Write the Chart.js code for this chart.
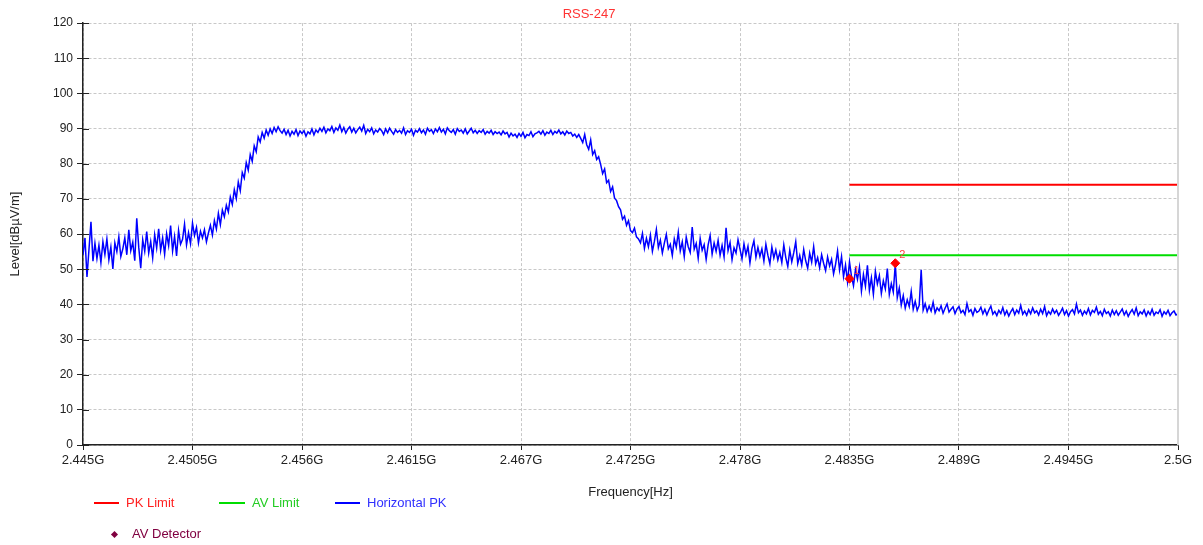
<!DOCTYPE html>
<html><head><meta charset="utf-8">
<script src="https://cdn.jsdelivr.net/npm/chart.js@4.4.0/dist/chart.umd.min.js"></script>
<style>
html,body{margin:0;padding:0;background:#fff;}
#wrap{position:relative;width:1203px;height:545px;font-family:"Liberation Sans",Arial,sans-serif;overflow:hidden;}
canvas{position:absolute;left:0;top:0;}
.lgt{position:absolute;font-size:13px;line-height:16px;white-space:nowrap;}
.lgs{position:absolute;height:2px;}
.lgd{position:absolute;width:5px;height:5px;transform:rotate(45deg);}
</style></head><body>
<div id="wrap"><canvas id="c" width="1203" height="545"></canvas><div id="legend"></div></div>
<script>
// ---------- data ----------
const chartTitle = 'RSS-247';
const xAxisTitle = 'Frequency[Hz]';
const yAxisTitle = 'Level[dBµV/m]';
const fStart = 2.445;
const fStop = 2.5;
const fStep = 0.0001;
const xTickLabels = ['2.445G','2.4505G','2.456G','2.4615G','2.467G','2.4725G','2.478G','2.4835G','2.489G','2.4945G','2.5G'];
const yMin = 0, yMax = 120, yStep = 10;

const levels = [
54.1,58.9,47.8,55.6,63.5,52.3,57.4,53.0,56.8,51.9,
57.8,54.2,58.6,52.7,56.3,50.1,57.5,55.0,59.2,53.6,
55.8,58.9,54.1,61.2,55.3,57.7,52.4,64.5,56.2,50.3,
58.4,55.1,60.7,54.6,57.9,53.2,59.8,56.0,61.5,55.4,
58.9,54.3,60.1,56.7,62.4,55.2,59.3,53.8,61.0,57.1,
58.5,62.8,56.9,60.4,57.3,63.1,59.6,61.9,57.5,60.8,
58.9,61.2,57.8,60.3,62.5,59.7,63.8,61.4,65.9,62.7,
66.8,64.9,68.2,66.3,70.5,68.4,72.6,70.1,74.8,72.3,
77.5,75.9,80.3,78.2,82.6,80.7,85.1,83.4,87.6,86.2,
88.9,87.3,89.6,88.1,89.9,88.6,90.3,89.1,90.5,89.4,
88.7,89.8,88.3,89.5,87.9,89.2,88.4,89.7,88.0,89.3,
88.6,89.4,87.8,89.1,88.5,89.9,88.2,89.6,88.9,90.1,
89.2,90.4,88.8,89.9,89.4,90.6,88.9,90.2,89.5,91.0,
89.1,90.3,88.7,89.8,90.5,89.0,90.1,88.8,89.7,90.4,
89.3,90.9,88.6,89.8,89.1,90.2,88.5,89.6,89.0,90.0,
89.4,88.3,89.9,88.8,90.1,89.2,88.4,89.7,88.9,89.5,
88.7,90.2,88.3,89.4,88.9,89.8,88.1,89.5,89.0,90.0,
88.8,89.6,88.4,90.1,89.2,89.7,88.6,89.9,89.1,90.3,
89.0,89.8,88.5,90.2,89.4,88.9,89.7,88.4,90.0,89.2,
89.6,88.7,89.9,88.5,89.3,90.1,88.8,89.5,88.6,89.4,
88.9,89.7,88.4,89.2,88.7,89.5,88.3,89.1,88.6,89.0,
88.2,89.3,88.5,88.9,87.6,88.7,87.9,88.4,87.5,88.6,
87.8,88.9,87.4,88.3,88.0,89.1,87.7,88.5,88.8,89.2,
88.4,89.4,88.1,89.0,88.6,89.5,88.3,89.2,88.7,89.6,
88.5,89.1,88.2,89.3,88.6,88.9,87.9,88.4,87.5,88.3,
87.2,86.0,88.3,85.4,84.1,86.8,82.6,83.7,81.2,82.0,
79.8,77.2,78.5,74.6,75.3,72.1,73.4,70.2,69.5,67.8,
66.9,64.2,65.1,62.5,63.8,61.0,60.4,61.7,59.2,58.6,
57.5,60.2,55.9,58.8,56.4,59.7,55.1,57.9,61.3,56.2,
58.3,54.6,57.4,59.9,55.8,57.1,53.9,58.6,56.3,60.5,
55.2,57.8,53.6,59.1,56.4,54.8,62.0,55.7,57.3,53.1,
58.7,55.4,57.0,52.8,56.9,59.6,54.3,57.5,55.1,58.2,
54.0,56.8,53.5,61.8,55.3,57.6,52.7,56.1,54.6,58.4,
55.7,52.9,57.2,54.1,56.5,51.8,55.9,58.1,53.4,56.2,
53.6,55.8,52.3,57.1,54.0,51.5,56.3,53.2,55.5,52.6,
54.8,51.9,56.9,53.3,50.8,55.4,52.1,54.7,57.8,51.6,
53.9,51.2,55.6,52.4,50.3,54.6,52.0,56.4,51.5,53.3,
50.4,54.1,51.7,49.6,53.5,50.9,52.8,48.7,51.4,55.2,
49.8,53.6,47.9,51.2,46.4,52.1,48.0,45.3,49.9,47.1,
50.6,43.8,48.5,45.2,51.1,44.0,47.6,42.9,49.4,45.8,
48.2,43.1,46.7,44.4,50.2,42.8,45.9,43.5,51.5,41.9,
44.6,39.8,42.5,38.9,41.3,39.4,43.7,38.6,40.9,38.3,
39.7,49.8,38.4,40.2,37.9,39.5,38.1,40.6,37.6,39.0,
38.2,39.6,37.5,38.9,40.1,37.8,38.6,39.3,37.4,38.7,
39.4,37.6,38.3,37.1,40.2,37.9,38.5,36.9,38.8,37.7,
38.1,39.2,37.3,38.6,37.0,38.4,39.5,37.2,38.0,36.8,
38.3,37.4,39.1,37.0,38.2,36.7,37.9,38.8,37.1,38.4,
37.5,39.7,37.2,38.1,36.9,38.5,37.3,39.0,37.6,38.2,
37.0,38.6,37.4,39.4,36.8,38.0,37.2,38.7,37.5,38.3,
36.9,37.8,38.9,37.1,38.2,36.7,37.9,38.5,37.3,40.1,
37.6,38.4,36.9,38.1,37.3,38.8,37.0,38.3,37.7,39.2,
37.2,38.0,36.8,38.6,37.4,37.9,36.7,38.4,37.1,38.2,
36.9,37.8,38.7,37.0,38.1,36.6,37.7,38.5,37.2,39.0,
36.8,37.9,37.3,38.4,36.7,38.0,37.1,38.6,36.9,37.8,
37.4,38.5,36.6,37.9,37.2,38.3,36.8,37.6,38.1,37.0,
37.3
];

const pkLimitFreqs = [2.4835, 2.5];
const pkLimitLevels = [74, 74];
const avLimitFreqs = [2.4835, 2.5];
const avLimitLevels = [54, 54];
const markerFreqs = [2.4835, 2.4858];
const markerLevels = [47.3, 51.7];
const markerLabels = ['1', '2'];

const legendNames = ['PK Limit', 'AV Limit', 'Horizontal PK', 'AV Detector'];

// ---------- styles ----------
const COL = { pk:'#ff0000', av:'#00dd00', trace:'#0000ff', marker:'#ff0000', det:'#800040',
  title:'#ff3333', text:'#333333', grid:'#c8c8c8', axis:'#222222' };
const legendColors = [COL.pk, COL.av, COL.trace, COL.det];
const legendTextColors = ['#ff2020', '#22cc22', '#3030ff', '#800040'];
const legendLayout = [
  {kind:'line', x1:94, x2:119, tx:126, y:503},
  {kind:'line', x1:219, x2:245, tx:252, y:503},
  {kind:'line', x1:335, x2:360, tx:367, y:503},
  {kind:'dot', x1:114, tx:132, y:534}
];

// ---------- build ----------
const toXY = (xs, ys) => ys.map((y, i) => ({x: xs[i], y}));
const traceFreqs = levels.map((_, i) => fStart + i * fStep);

Chart.defaults.font.family = '"Liberation Sans", Arial, sans-serif';
Chart.defaults.color = COL.text;

const extras = {
  id: 'extras',
  afterDraw(chart) {
    const ctx = chart.ctx, ca = chart.chartArea, ys = chart.scales.y;
    ctx.save();
    // inward y tick marks
    ctx.strokeStyle = COL.axis; ctx.lineWidth = 1;
    for (let v = yMin; v <= yMax; v += yStep) {
      const py = Math.round(ys.getPixelForValue(v)) + 0.5;
      ctx.beginPath(); ctx.moveTo(ca.left, py); ctx.lineTo(ca.left + 6, py); ctx.stroke();
    }
    // right frame line
    ctx.strokeStyle = '#d6d6d6'; ctx.lineWidth = 2;
    ctx.beginPath(); ctx.moveTo(ca.right, ca.top); ctx.lineTo(ca.right, ca.bottom); ctx.stroke();
    // marker labels
    const meta = chart.getDatasetMeta(0);
    ctx.fillStyle = '#ff4040'; ctx.font = '11px "Liberation Sans", Arial, sans-serif';
    ctx.textAlign = 'left'; ctx.textBaseline = 'middle';
    meta.data.forEach((el, i) => { ctx.fillText(markerLabels[i], el.x + 4, el.y - 8); });
    ctx.restore();
  }
};

new Chart(document.getElementById('c'), {
  type: 'line',
  data: {
    datasets: [
      { label: legendNames[3], data: toXY(markerFreqs, markerLevels), showLine: false,
        pointStyle: 'rectRot', pointRadius: 4.5, pointBorderWidth: 1,
        pointBackgroundColor: COL.marker, pointBorderColor: COL.marker, order: 0 },
      { label: legendNames[0], data: toXY(pkLimitFreqs, pkLimitLevels), borderColor: COL.pk,
        borderWidth: 2, pointRadius: 0, order: 1 },
      { label: legendNames[1], data: toXY(avLimitFreqs, avLimitLevels), borderColor: COL.av,
        borderWidth: 2, pointRadius: 0, order: 1 },
      { label: legendNames[2], data: toXY(traceFreqs, levels), borderColor: COL.trace,
        borderWidth: 1.5, pointRadius: 0, tension: 0, order: 2 }
    ]
  },
  options: {
    responsive: false, animation: false, devicePixelRatio: 1,
    layout: { padding: { left: 0, right: 25, top: 0, bottom: 0 } },
    plugins: {
      legend: { display: false }, tooltip: { enabled: false },
      title: { display: true, text: chartTitle, color: COL.title,
        font: { size: 13, weight: 'normal' }, padding: { top: 7, bottom: 0.5 } }
    },
    scales: {
      x: {
        type: 'linear', min: fStart, max: fStop,
        afterFit: s => { s.height = 100; },
        border: { display: true, color: COL.axis, width: 1.5, dash: [3, 2] },
        grid: { color: COL.grid, lineWidth: 1, tickLength: 5, tickColor: COL.axis, tickBorderDash: [] },
        ticks: { stepSize: 0.0055, autoSkip: false, maxRotation: 0, padding: 3, color: '#222',
          font: { size: 13 },
          callback: (v) => xTickLabels[Math.round((v - fStart) / 0.0055)] },
        title: { display: true, text: xAxisTitle, color: '#222', font: { size: 13 },
          padding: { top: 4, bottom: 45 } }
      },
      y: {
        min: yMin, max: yMax,
        afterFit: s => { s.width = 83; },
        border: { display: true, color: COL.axis, width: 1.5, dash: [3, 2] },
        grid: { color: COL.grid, lineWidth: 1, tickLength: 6, tickColor: COL.axis, tickBorderDash: [] },
        ticks: { stepSize: yStep, padding: 4, color: '#222', font: { size: 12 } },
        title: { display: true, text: yAxisTitle, color: '#222', font: { size: 13 },
          padding: { top: 8 } }
      }
    }
  },
  plugins: [extras]
});

// ---------- HTML legend ----------
const lg = document.getElementById('legend');
legendLayout.forEach((L, i) => {
  if (L.kind === 'line') {
    const s = document.createElement('div'); s.className = 'lgs';
    s.style.left = L.x1 + 'px'; s.style.width = (L.x2 - L.x1) + 'px'; s.style.top = (L.y - 1) + 'px';
    s.style.background = legendColors[i]; lg.appendChild(s);
  } else {
    const d = document.createElement('div'); d.className = 'lgd';
    d.style.left = (L.x1 - 2.5) + 'px'; d.style.top = (L.y - 2.5) + 'px';
    d.style.background = legendColors[i]; lg.appendChild(d);
  }
  const t = document.createElement('div'); t.className = 'lgt';
  t.textContent = legendNames[i]; t.style.left = L.tx + 'px'; t.style.top = (L.y - 8) + 'px';
  t.style.color = legendTextColors[i]; lg.appendChild(t);
});
</script></body></html>
